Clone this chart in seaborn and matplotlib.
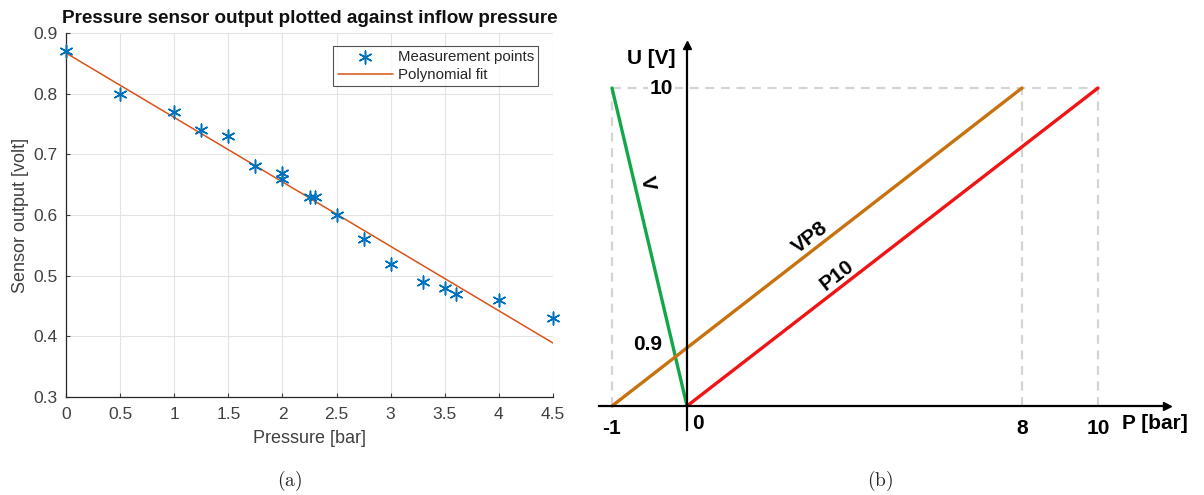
import numpy as np
import pandas as pd
import matplotlib
matplotlib.use("Agg")
import matplotlib.pyplot as plt
import seaborn as sns

# ---- panel (a): measured sensor output versus inflow pressure ----
pressure_bar = [0, 0.5, 1, 1.25, 1.5, 1.75, 2, 2, 2.25, 2.3, 2.5, 2.75, 3, 3.3, 3.5, 3.6, 4, 4.5]
output_volt = [0.87, 0.80, 0.77, 0.74, 0.73, 0.68, 0.67, 0.66, 0.63, 0.63, 0.60, 0.56, 0.52,
               0.49, 0.48, 0.47, 0.46, 0.43]
fit_pressure = [0, 4.5]
fit_volt = [0.867, 0.389]
x_ticks_a = [0, 0.5, 1, 1.5, 2, 2.5, 3, 3.5, 4, 4.5]
y_ticks_a = [0.3, 0.4, 0.5, 0.6, 0.7, 0.8, 0.9]

# ---- panel (b): characteristic curves of the sensor variants ----
curve_names = ["V", "VP8", "P10"]
curve_p = [[-1, 0], [-1, 8], [0, 10]]
curve_u = [[10, 0], [0, 10], [0, 10]]
curve_colors = ["#12a84a", "#c8720f", "#f01414"]
x_ticks_b = [-1, 8, 10]
y_ticks_b = [0.9, 10]

sns.set_theme(style="white")
plt.rcParams["font.family"] = ["Liberation Sans", "DejaVu Sans"]
plt.rcParams["mathtext.fontset"] = "cm"

W, H = 1204, 495
fig = plt.figure(figsize=(W / 100, H / 100), dpi=100)


def fig_box(left, top, right, bottom):
    return [left / W, 1 - bottom / H, (right - left) / W, (bottom - top) / H]


GREY_TXT = "#404040"
asterisk = (6, 2, 0)

# ================= panel (a) =================
ax = fig.add_axes(fig_box(66, 33, 553, 397))
df_pts = pd.DataFrame({"Pressure": pressure_bar, "Output": output_volt})
df_fit = pd.DataFrame({"Pressure": fit_pressure, "Output": fit_volt})
sns.lineplot(data=df_fit, x="Pressure", y="Output", ax=ax, color="#D95319", lw=1.1,
             label="Polynomial fit", zorder=2)
sns.scatterplot(data=df_pts, x="Pressure", y="Output", ax=ax, marker=asterisk, s=85,
                color="#0072BD", edgecolor="#0072BD", linewidth=1.1,
                label="Measurement points", zorder=3, clip_on=False)
ax.set_xlim(0, 4.5)
ax.set_ylim(0.3, 0.9)
ax.set_xticks(x_ticks_a)
ax.set_xticklabels([f"{t:g}" for t in x_ticks_a])
ax.set_yticks(y_ticks_a)
ax.set_yticklabels([f"{t:g}" for t in y_ticks_a])
ax.grid(True, color="#e3e3e3", lw=0.8)
ax.tick_params(axis="both", labelsize=12.5, colors=GREY_TXT, direction="in", length=3,
               width=0.8, bottom=True, left=True)
ax.tick_params(axis="x", pad=7)
ax.tick_params(axis="y", pad=6)
for side in ["top", "right"]:
    ax.spines[side].set_visible(False)
for side in ["left", "bottom"]:
    ax.spines[side].set_color("#262626")
    ax.spines[side].set_linewidth(0.9)
ax.set_xlabel("Pressure [bar]", fontsize=13, color=GREY_TXT, labelpad=6)
ax.set_ylabel("Sensor output [volt]", fontsize=13, color=GREY_TXT, labelpad=3)
ax.set_title("Pressure sensor output plotted against inflow pressure", fontsize=13.6,
             fontweight="bold", color="#111111", pad=7)
handles, labels = ax.get_legend_handles_labels()
order = [labels.index("Measurement points"), labels.index("Polynomial fit")]
leg = ax.legend([handles[i] for i in order], [labels[i] for i in order],
                loc="upper right", bbox_to_anchor=(538 / W, 1 - 46 / H),
                bbox_transform=fig.transFigure, borderaxespad=0, fontsize=10.8,
                frameon=True, fancybox=False, edgecolor="#262626", handlelength=3.7,
                borderpad=0.28, labelspacing=0.25, handletextpad=0.3)
leg.get_frame().set_linewidth(0.8)
for t in leg.get_texts():
    t.set_color("#262626")

# ================= panel (b) =================
# the schematic axes use piecewise-linear scales so that each
# labelled value lands on its own tick position
bx = fig.add_axes(fig_box(590, 35, 1204, 450))
bx.set_facecolor("none")

xv, xp = [-1, 0, 8, 10], [612, 687, 1022, 1098]
yv, yp = [0, 0.9, 10], [H - 406, H - 344, H - 88]


def piecewise(kv, kp):
    kv = np.asarray(kv, float)
    kp = np.asarray(kp, float)

    def f(v):
        v = np.asarray(v, float)
        out = np.interp(v, kv, kp)
        lo = kp[0] + (v - kv[0]) * (kp[1] - kp[0]) / (kv[1] - kv[0])
        hi = kp[-1] + (v - kv[-1]) * (kp[-1] - kp[-2]) / (kv[-1] - kv[-2])
        out = np.where(v < kv[0], lo, out)
        out = np.where(v > kv[-1], hi, out)
        return out
    return f


fx, gx = piecewise(xv, xp), piecewise(xp, xv)
fy, gy = piecewise(yv, yp), piecewise(yp, yv)
bx.set_xscale("function", functions=(fx, gx))
bx.set_yscale("function", functions=(fy, gy))
bx.set_xlim(float(gx(590)), float(gx(1204)))
bx.set_ylim(float(gy(H - 450)), float(gy(H - 35)))


def px(x, y):
    """Data position of a point given in figure pixels (origin top-left)."""
    return float(gx(x)), float(gy(H - y))


# dashed guide lines
guide = dict(color="#d4d4d4", lw=1.6, ls=(0, (4, 3)), zorder=1)
bx.plot([-1, 10], [10, 10], **guide)
for xg in [-1, 8, 10]:
    bx.plot([xg, xg], [0, 10], **guide)

for name, p, u, c in zip(curve_names, curve_p, curve_u, curve_colors):
    sns.lineplot(x=p, y=u, ax=bx, color=c, lw=2.4, sort=False, zorder=3)

# axes through the origin with arrow heads
x_start, x_end = float(gx(599)), float(gx(1167))
y_start, y_end = float(gy(H - 430)), float(gy(H - 45))
for side in ["top", "right"]:
    bx.spines[side].set_visible(False)
bx.spines["bottom"].set_position(("data", 0))
bx.spines["left"].set_position(("data", 0))
bx.spines["bottom"].set_bounds(x_start, x_end)
bx.spines["left"].set_bounds(y_start, y_end)
for side in ["bottom", "left"]:
    bx.spines[side].set_color("black")
    bx.spines[side].set_linewidth(1.6)
    bx.spines[side].set_zorder(4)
bx.plot(x_end, 0, marker=">", ms=6, color="black", clip_on=False, zorder=5)
bx.plot(0, y_end, marker="^", ms=6, color="black", clip_on=False, zorder=5)

bx.set_xticks(x_ticks_b)
bx.set_xticklabels([f"{t:g}" for t in x_ticks_b])
bx.set_yticks(y_ticks_b)
bx.set_yticklabels([])
bx.minorticks_off()
bx.tick_params(axis="both", direction="out", length=5, width=1.5, colors="black",
               labelsize=15, pad=4)
for lab in bx.get_xticklabels():
    lab.set_fontweight("bold")
bx.set_xlabel("")
bx.set_ylabel("")

bold = dict(fontsize=15, fontweight="bold", color="black")
# value labels on the voltage axis
bx.annotate("10", (0, 10), xytext=(-10, 0), textcoords="offset points",
            ha="right", va="center", zorder=6,
            bbox=dict(boxstyle="square,pad=0.1", fc="white", ec="none"), **bold)
bx.annotate("0.9", (0, 0.9), xytext=(-18, 0), textcoords="offset points",
            ha="right", va="center", zorder=6, **bold)
bx.annotate("0", (0, 0), xytext=(4, -6), textcoords="offset points",
            ha="left", va="top", **bold)
bx.annotate("P [bar]", (10, 0), xytext=(17, -6), textcoords="offset points",
            ha="left", va="top", **bold)
bx.annotate("U [V]", (0, y_end), xytext=(-8, -10), textcoords="offset points",
            ha="right", va="center", **bold)

# curve labels along their lines
bx.text(*px(647, 183), "V", ha="center", va="center", rotation=-80, **bold)
bx.text(*px(810, 238), "VP8", ha="center", va="center", rotation=37.8, **bold)
bx.text(*px(837, 275), "P10", ha="center", va="center", rotation=37.8, **bold)

# sub-figure captions
fig.text(290 / W, 1 - 481 / H, r"$\mathrm{(a)}$", ha="center", va="center", fontsize=14)
fig.text(880 / W, 1 - 481 / H, r"$\mathrm{(b)}$", ha="center", va="center", fontsize=14)

fig.savefig("out.png", dpi=100)
